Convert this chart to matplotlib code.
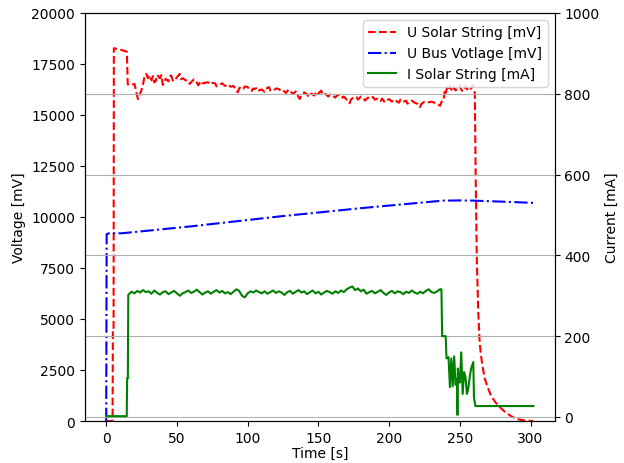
import matplotlib
matplotlib.use("Agg")
import matplotlib.pyplot as plt

# U Solar String [mV]
t_red = [0, 4.5, 4.7, 5.2, 5.4, 10, 14.6, 15.2, 17, 20, 21, 22.4, 23.5, 24.8, 26, 27, 28.3, 29.5, 30.5,
         32, 33, 34, 35, 36, 38, 39, 40, 41, 42, 44, 45, 46, 47, 48, 50, 52, 53, 54, 56, 57.8, 59, 60,
         62, 64, 65, 67, 68, 70, 72, 74, 75, 77, 78, 80, 82, 84, 86, 88, 90, 91, 93, 94, 95, 97, 98,
         100, 101, 103, 104, 105, 107, 108, 110, 112, 113, 115, 116, 118, 120, 122, 124, 125, 127, 129,
         130, 132, 134, 135, 136.8, 138, 140, 142, 143, 145, 147, 149, 150, 152, 153, 155, 157, 158,
         160, 162, 163, 165, 167, 168, 170, 172, 173, 175, 177, 178, 180, 182, 183, 185, 187, 188.5,
         190, 192, 194, 195, 197, 198, 200, 202, 203, 205, 207, 208, 210, 212, 213, 214.6, 216, 218,
         220, 221.7, 223, 225, 227, 228.8, 230, 232, 234, 236, 237, 238.5, 239.4, 240, 241, 242, 243,
         244, 245, 246, 247, 248, 250, 251, 252, 253, 254, 255, 256, 257, 258.3, 259, 260, 260.6,
         261.2, 262, 263, 264, 265, 266, 267.7, 270, 272, 275, 278, 282, 286, 290, 294, 297, 300.8, 302]
u_solar = [0, 0, 4400, 4400, 18270, 18200, 18100, 16500, 16450, 16520, 16200, 15780, 15950, 16190, 16500,
           16850, 17010, 16800, 16950, 16700, 16900, 16600, 16650, 16960, 16800, 16950, 16470, 16550,
           16770, 16650, 16900, 16930, 16700, 16650, 16850, 17010, 16750, 16800, 16700, 16670, 16520,
           16600, 16750, 16600, 16450, 16650, 16550, 16580, 16600, 16500, 16570, 16550, 16400, 16470,
           16550, 16420, 16500, 16380, 16420, 16300, 16110, 16300, 16370, 16280, 16400, 16370, 16250,
           16180, 16300, 16270, 16350, 16200, 16250, 16130, 16280, 16370, 16200, 16180, 16300, 16270,
           16150, 16200, 16080, 16250, 16180, 16030, 16150, 16000, 15780, 15950, 16110, 16000, 15900,
           16050, 15950, 16150, 16050, 16190, 16000, 16030, 15900, 16000, 15950, 15850, 15950, 16000,
           15850, 15900, 15750, 15570, 15750, 15880, 15870, 15750, 15900, 15830, 15700, 15850, 15800,
           15880, 15750, 15800, 15680, 15800, 15620, 15700, 15780, 15650, 15750, 15690, 15600, 15750,
           15640, 15700, 15550, 15640, 15700, 15600, 15550, 15380, 15550, 15640, 15600, 15640, 15650,
           15600, 15550, 15450, 15640, 15700, 16190, 16050, 16350, 16200, 16410, 16250, 16150, 16350,
           16200, 16300, 16440, 16250, 16150, 16270, 16400, 16250, 16300, 16200, 16350, 16450, 16180,
           16100, 12000, 7940, 5400, 3870, 3200, 2700, 2060, 1600, 1250, 930, 700, 440, 250, 100, 50,
           20, 0, 0]

# U Bus Voltage [mV]
t_bus = [0, 0.3, 2, 11, 60, 123, 180, 238, 250, 260, 280, 302]
u_bus = [0, 9150, 9200, 9200, 9540, 10030, 10430, 10800, 10810, 10800, 10750, 10690]

# I Solar String [mA]
t_cur = [0, 14.5, 14.8, 15.3, 15.6,
         16, 18, 20, 22, 24, 26, 28, 30, 32, 34, 36, 38, 40, 42, 44, 46, 48, 50, 52, 54, 56, 58,
         60, 62, 64, 66, 68, 70, 72, 74, 76, 78, 80, 82, 84, 86, 88, 90, 92, 94, 96, 98, 100, 102,
         104, 106, 108, 110, 112, 114, 116, 118, 120, 122, 124, 126, 128, 130, 132, 134, 136, 138,
         140, 142, 144, 146, 148, 150, 152, 154, 156, 158, 160, 162, 164, 166, 168, 170, 172, 174,
         176, 178, 180, 182, 184, 186, 188, 190, 192, 194, 196, 198, 200, 202, 204, 206, 208, 210,
         212, 214, 216, 218, 220, 222, 224, 226, 228, 230, 232, 234, 236,
         237, 237.5, 240, 240.6, 242, 243, 244, 245, 246, 247, 248, 248.3, 248.6, 249, 250, 251,
         252, 253, 254, 255, 256, 257, 258, 259.5, 260, 261, 302]
i_solar = [2, 2, 96, 96, 302,
           304, 310, 306, 312, 308, 314, 309, 311, 305, 313, 307, 303, 309, 311, 304, 308, 312, 306,
           300, 306, 309, 313, 307, 310, 315, 309, 303, 308, 311, 305, 310, 314, 308, 312, 306, 309,
           304, 310, 316, 312, 300, 296, 306, 311, 308, 313, 309, 306, 311, 305, 309, 313, 307, 311,
           308, 302, 309, 312, 305, 310, 314, 308, 311, 304, 309, 313, 306, 310, 303, 308, 312, 309,
           305, 311, 307, 313, 309, 316, 320, 323, 314, 318, 311, 315, 305, 309, 312, 306, 310, 314,
           307, 302, 308, 312, 306, 311, 309, 304, 310, 307, 313, 308, 305, 310, 306, 312, 316, 309,
           307, 311, 316,
           316, 200, 200, 145, 148, 74, 145, 76, 150, 80, 94, 5, 120, 94, 85, 160,
           57, 111, 99, 57, 70, 100, 120, 136, 49, 27, 27]

fig = plt.figure(figsize=(6.24, 4.64), dpi=100)
ax1 = fig.add_axes([0.136, 0.0905, 0.753, 0.8795])
ax2 = ax1.twinx()

l1, = ax1.plot(t_red, u_solar, color="red", linestyle="--", label="U Solar String [mV]")
l2, = ax1.plot(t_bus, u_bus, color="blue", linestyle="-.", label="U Bus Votlage [mV]")
l3, = ax2.plot(t_cur, i_solar, color="green", linestyle="-", label="I Solar String [mA]")

ax1.set_ylim(0, 20000)
ax2.set_ylim(-10, 1000)
ax1.set_xlabel("Time [s]", labelpad=1)
ax1.set_ylabel("Voltage [mV]")
ax2.set_ylabel("Current [mA]")
ax2.yaxis.grid(True)

ax2.legend(handles=[l1, l2, l3], loc="upper right")

fig.savefig("out.png", dpi=100)
